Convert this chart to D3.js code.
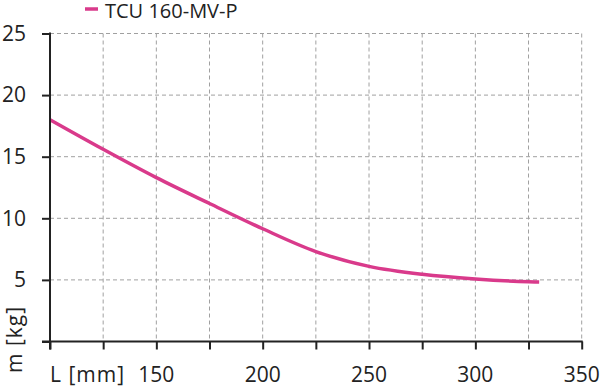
<!DOCTYPE html>
<html>
<head>
<meta charset="utf-8">
<script src="https://cdn.jsdelivr.net/npm/d3@7"></script>
<style>
  body { margin: 0; background: #fff; }
  text { font-family: "Open Sans", sans-serif; fill: #222; }
</style>
</head>
<body>
<svg id="chart" width="600" height="387"></svg>
<script>
// data
const seriesName = "TCU 160-MV-P";
const lengthMm = [100, 125, 150, 175, 200, 225, 250, 275, 300, 325, 330];
const massKg = [18.0, 15.6, 13.3, 11.2, 9.15, 7.3, 6.1, 5.45, 5.07, 4.85, 4.83];
const xTicks = [100, 125, 150, 175, 200, 225, 250, 275, 300, 325, 350];
const xLabels = [150, 200, 250, 300, 350];
const yTicks = [0, 5, 10, 15, 20, 25];

const margin = { top: 33.5, right: 18.3, bottom: 45.5, left: 50 };
const width = 600 - margin.left - margin.right;
const height = 387 - margin.top - margin.bottom;
const pink = "#d93a8b";

const svg = d3.select("#chart");
const g = svg.append("g")
  .attr("transform", `translate(${margin.left},${margin.top})`);

const x = d3.scaleLinear().domain([100, 350]).range([0, width]);
const y = d3.scaleLinear().domain([0, 25]).range([height, 0]);

// grid
g.selectAll(".vgrid")
  .data(xTicks.slice(1))
  .enter().append("line")
  .attr("x1", d => x(d)).attr("x2", d => x(d))
  .attr("y1", 0).attr("y2", height)
  .attr("stroke", "#a0a0a0")
  .attr("stroke-dasharray", "4,3");

g.selectAll(".hgrid")
  .data(yTicks.slice(1))
  .enter().append("line")
  .attr("x1", 0).attr("x2", width)
  .attr("y1", d => y(d)).attr("y2", d => y(d))
  .attr("stroke", "#a0a0a0")
  .attr("stroke-dasharray", "4,3");

// curve
const line = d3.line()
  .x((d, i) => x(lengthMm[i]))
  .y(d => y(d))
  .curve(d3.curveMonotoneX);

g.append("path")
  .datum(massKg)
  .attr("fill", "none")
  .attr("stroke", pink)
  .attr("stroke-width", 3.5)
  .attr("d", line);

// axes
const xAxis = g.append("g")
  .attr("transform", `translate(0,${height})`)
  .call(d3.axisBottom(x).tickValues(xTicks).tickSize(8).tickFormat(""));
const yAxis = g.append("g")
  .call(d3.axisLeft(y).tickValues(yTicks).tickSize(8).tickFormat(""));

[xAxis, yAxis].forEach(a => {
  a.select(".domain").remove();
  a.selectAll(".tick line").attr("stroke", "#222").attr("stroke-width", 2);
});

g.append("line")
  .attr("x1", -8).attr("x2", width + 1)
  .attr("y1", height).attr("y2", height)
  .attr("stroke", "#222").attr("stroke-width", 2);
g.append("line")
  .attr("x1", 0).attr("x2", 0)
  .attr("y1", -1).attr("y2", height + 8)
  .attr("stroke", "#222").attr("stroke-width", 2);

// tick labels
g.selectAll(".xlab")
  .data(xLabels)
  .enter().append("text")
  .attr("x", d => x(d))
  .attr("y", 382 - margin.top)
  .attr("text-anchor", "middle")
  .style("font-size", "21px")
  .text(d => d);

g.selectAll(".ylab")
  .data(yTicks.slice(1))
  .enter().append("text")
  .attr("x", -24)
  .attr("y", d => y(d))
  .attr("dy", "0.35em")
  .attr("text-anchor", "end")
  .style("font-size", "21px")
  .text(d => d);

// axis titles
svg.append("text")
  .attr("x", 50)
  .attr("y", 382)
  .style("font-size", "21px")
  .style("letter-spacing", "1px")
  .text("L [mm]");

svg.append("text")
  .attr("transform", "translate(22,373) rotate(-90)")
  .style("font-size", "21px")
  .style("letter-spacing", "1px")
  .text("m [kg]");

// legend
svg.append("line")
  .attr("x1", 85).attr("x2", 98)
  .attr("y1", 9).attr("y2", 9)
  .attr("stroke", pink)
  .attr("stroke-width", 3.5);

svg.append("text")
  .attr("x", 105)
  .attr("y", 18)
  .style("font-size", "20px")
  .text(seriesName);
</script>
</body>
</html>
